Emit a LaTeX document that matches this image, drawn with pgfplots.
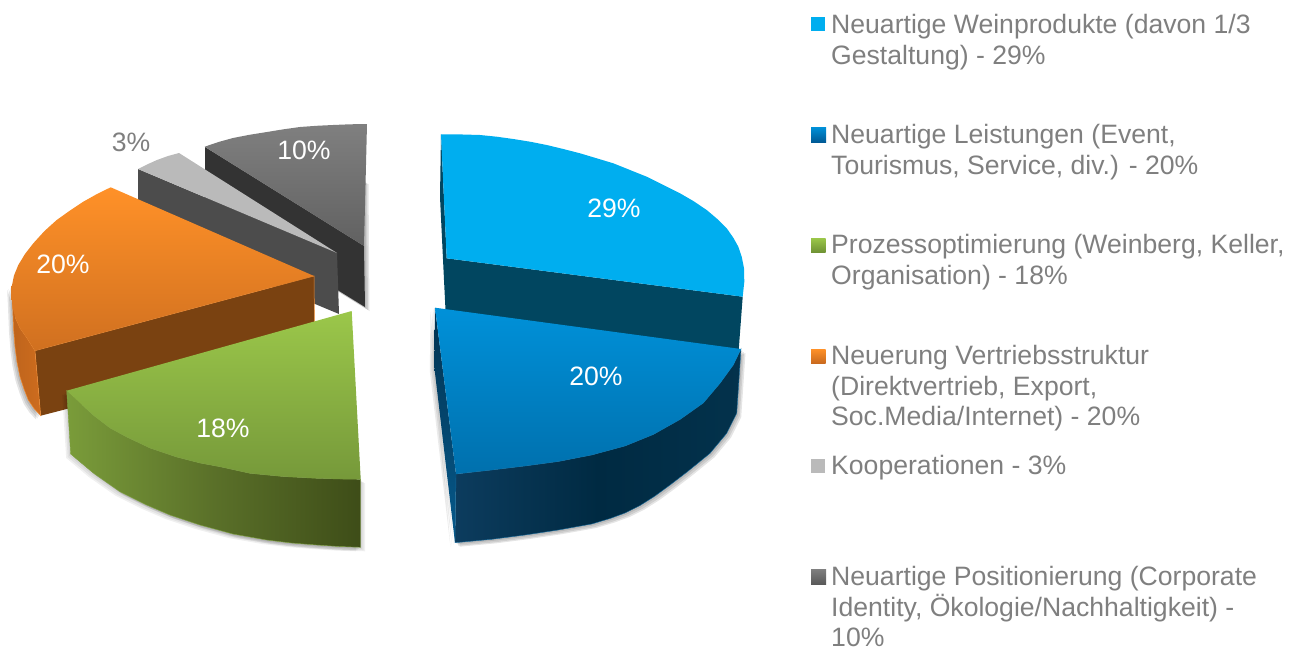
\documentclass[border=0pt]{standalone}
\usepackage{pgfplots}
\usepackage{pgfplotstable}
\pgfplotsset{compat=1.18}
\usepackage{fontspec}
\setmainfont{Liberation Sans}
\definecolor{txt}{HTML}{7F7F7F}
\newcommand{\poly}[2]{\addplot[forget plot,#1] coordinates {#2} -- cycle;}
% shadow: #1 table, #2 sign of the x offset, #3 opacity
\newcommand{\shadow}[3]{%
\addplot[forget plot,draw=none,fill=black,fill opacity=#3] table[x expr=\thisrow{x}+#2*1.5,y expr=\thisrow{y}+1.5] {#1} -- cycle;
\addplot[forget plot,draw=none,fill=black,fill opacity=#3] table[x expr=\thisrow{x}+#2*3,y expr=\thisrow{y}+3] {#1} -- cycle;
\addplot[forget plot,draw=none,fill=black,fill opacity=#3] table[x expr=\thisrow{x}+#2*4.5,y expr=\thisrow{y}+4] {#1} -- cycle;}
\newcommand{\legline}[2]{\node[anchor=base west,inner sep=0pt,text=txt,font=\fontsize{26.6}{30}\selectfont] at (axis cs:831,#1) {#2};}
\newcommand{\pct}[3]{\node[anchor=center,inner sep=0pt,text=#3,font=\fontsize{26.6}{30}\selectfont] at (axis cs:#1) {#2};}
\pgfplotstableread{
x y
205 147
364 180
365 307
205 208
}\tenside
\pgfplotstableread{
x y
11.7 286
12.7 308
13.5 328
15 346.7
17 362
20 376.7
24 389
28.3 400
34 408.5
40.7 415.7
35 350.7
}\orside
\pgfplotstableread{
x y
66.7 390.7
70.7 454
93.3 473
120 491.7
146.7 505
170 515
200 525
233 534
266.7 540
291.5 543
316.7 545
339 546.5
360.7 547.3
360.7 479.3
}\grside
\pgfplotstableread{
x y
456 474
455 542.7
491.7 539.3
525 535
558.3 530
591.7 524
610 518.5
625 513
640 505.5
655 496
670 485
687 472
710 453.3
726.7 433.3
736.7 413.3
741 349
}\blside
\pgfplotstableread{
x y
435 307.7
455 543
434.3 367
}\blsliver
\begin{document}
\begin{tikzpicture}
\begin{axis}[hide axis,scale only axis,width=1290pt,height=648pt,
  xmin=0,xmax=1290,ymin=0,ymax=648,y dir=reverse,clip=false]
\path (axis cs:0,0) (axis cs:1290,648);
\addplot[forget plot,draw=none] coordinates {(0,0)(1290,648)};
% 10 %
\shadow{\tenside}{1}{.10}
\poly{draw=none,fill=black!80}{(205,147)(364,246)(365,307)(205,208)}
\poly{draw=none,top color=black!50,bottom color=black!62}{(204.7,146.7)(218.5,142)(233,138)(250,134.7)(267,132)(283.5,129.3)(300,127)(316.5,125.8)(333,125)(350,124.3)(367,124)(364,246)}
% 3 %
\poly{draw=none,fill=black!70}{(138,169)(337,253)(339,314)(138,230)}
\poly{draw=none,fill=black!27}{(138,169)(147,164.5)(157,160)(168,156)(179,153)(337,253)}
% 20 % orange
\shadow{\orside}{-1}{.10}
\poly{draw=none,fill={rgb,255:red,122;green,66;blue,17}}{(35,350.7)(314,276)(314.5,345)(40.7,415.7)}
\poly{draw={rgb,255:red,240;green,140;blue,50},line width=.5pt,left color={rgb,255:red,190;green,100;blue,28},right color={rgb,255:red,205;green,108;blue,30}}{(11.7,286)(12.7,308)(13.5,328)(15,346.7)(17,362)(20,376.7)(24,389)(28.3,400)(34,408.5)(40.7,415.7)(35,350.7)(27,338)(20,328)(15.5,318)}
\addplot[forget plot,draw={rgb,255:red,240;green,140;blue,50},line width=.5pt] coordinates {(35,350.7)(314,276)(314.5,322)};
\poly{draw=none,top color={rgb,255:red,255;green,145;blue,40},bottom color={rgb,255:red,208;green,112;blue,32}}{(110.7,187.3)(97,194)(83.3,201.7)(70,210.5)(56.7,220)(44.5,231)(33.3,243.3)(25,254)(18.3,265)(14,275.5)(11.7,286.7)(11.5,298)(12.7,308)(15.5,318)(20,328)(27,338)(35,350.7)(314,276)}
% 18 % green
\shadow{\grside}{-1}{.06}
\shadow{\grside}{1}{.06}
\poly{draw={rgb,255:red,125;green,160;blue,62},line width=.4pt,left color={rgb,255:red,122;green,156;blue,58},right color={rgb,255:red,62;green,77;blue,24},middle color={rgb,255:red,90;green,112;blue,41}}{(66.7,390.7)(70.7,454)(93.3,473)(120,491.7)(146.7,505)(170,515)(200,525)(233,534)(266.7,540)(291.5,543)(316.7,545)(339,546.5)(360.7,547.3)(360.7,479.3)(340,479)(316.7,478.3)(283,476.5)(250,473.3)(220,466.7)(200,463)(176.7,457)(150,448)(126.7,437)(110,428)(93,415)(80,403)}
\poly{draw=none,top color={rgb,255:red,155;green,199;blue,74},bottom color={rgb,255:red,118;green,153;blue,58}}{(351.7,311)(66.7,390.7)(80,403)(93,415)(110,428)(126.7,437)(150,448)(176.7,457)(200,463)(220,466.7)(250,473.3)(283,476.5)(316.7,478.3)(340,479)(360.7,479.3)}
% 29 %
\poly{draw=none,fill={rgb,255:red,1;green,70;blue,96}}{(441,134)(446.7,258.3)(742.7,296.7)(738.7,350)(445.5,310)(444,280)(440,197)}
\poly{draw=none,fill={rgb,255:red,0;green,174;blue,239}}{(441,134.3)(463,134.5)(480,135)(496.7,136.7)(513.3,139)(530,141.7)(546.7,145)(563.3,149)(580,153.3)(596.7,158.3)(613.3,163.3)(630,170)(646.7,176.7)(663.3,185)(680,193.3)(693.3,201)(706.7,210)(717.3,219)(726.7,228.3)(733.3,237.7)(738.3,246.7)(741.7,256.7)(744,268.3)(744.3,281.7)(742.7,296.7)(446.7,258.3)}
% 20 % blue
\shadow{\blside}{1}{.10}
\shadow{\blsliver}{-1}{.08}
\poly{draw=none,top color={rgb,255:red,2;green,50;blue,80},bottom color={rgb,255:red,6;green,90;blue,140}}{(435,307.7)(456,474)(455,542.7)(434.3,367)}
\poly{draw={rgb,255:red,20;green,105;blue,155},line width=.4pt,left color={rgb,255:red,12;green,60;blue,94},right color={rgb,255:red,3;green,50;blue,76},middle color={rgb,255:red,0;green,42;blue,66}}{(456,474)(455,542.7)(491.7,539.3)(525,535)(558.3,530)(591.7,524)(610,518.5)(625,513)(640,505.5)(655,496)(670,485)(687,472)(710,453.3)(726.7,433.3)(736.7,413.3)(741,349)(733.3,365)(720,383.3)(703.3,403)(680,419.5)(653.3,434.5)(625,446)(591.7,455)(558.3,461.5)(525,466)(491.7,470)}
\poly{draw=none,top color={rgb,255:red,0;green,145;blue,217},bottom color={rgb,255:red,0;green,112;blue,173}}{(435,307.7)(741,349)(733.3,365)(720,383.3)(703.3,403)(680,419.5)(653.3,434.5)(625,446)(591.7,455)(558.3,461.5)(525,466)(491.7,470)(456,474)}
% percentage labels
\pct{614,208}{29\%}{white}
\pct{596,376}{20\%}{white}
\pct{223,428}{18\%}{white}
\pct{63,264}{20\%}{white}
\pct{304,150}{10\%}{white}
\pct{131,142}{3\%}{txt}
% legend keys
\poly{draw=none,fill={rgb,255:red,0;green,174;blue,239}}{(811,17)(825,17)(825,31)(811,31)}
\poly{draw=none,top color={rgb,255:red,0;green,145;blue,217},bottom color={rgb,255:red,0;green,90;blue,150}}{(811,127)(826,127)(826,142)(811,142)}
\poly{draw=none,top color={rgb,255:red,155;green,199;blue,74},bottom color={rgb,255:red,110;green,145;blue,52}}{(811,238)(825.5,238)(825.5,252.5)(811,252.5)}
\poly{draw=none,top color={rgb,255:red,255;green,145;blue,40},bottom color={rgb,255:red,200;green,105;blue,30}}{(811,349)(825.5,349)(825.5,363.5)(811,363.5)}
\poly{draw=none,fill=black!27}{(811,459)(825,459)(825,473)(811,473)}
\poly{draw=none,top color=black!50,bottom color=black!65}{(811,569)(826,569)(826,584)(811,584)}
% legend text
\legline{33.8}{Neuartige Weinprodukte (davon 1/3}
\legline{64.3}{Gestaltung) - 29\%}
\legline{143.8}{Neuartige Leistungen (Event,}
\legline{174.8}{Tourismus, Service, div.) - 20\%}
\legline{253.8}{Prozessoptimierung (Weinberg, Keller,}
\legline{284.8}{Organisation) - 18\%}
\legline{364.8}{Neuerung Vertriebsstruktur}
\legline{395.3}{(Direktvertrieb, Export,}
\legline{425.8}{Soc.Media/Internet) - 20\%}
\legline{474.8}{Kooperationen - 3\%}
\legline{585.8}{Neuartige Positionierung (Corporate}
\legline{616.3}{Identity, Ökologie/Nachhaltigkeit) -}
\legline{646.3}{10\%}
\end{axis}
\end{tikzpicture}
\end{document}
